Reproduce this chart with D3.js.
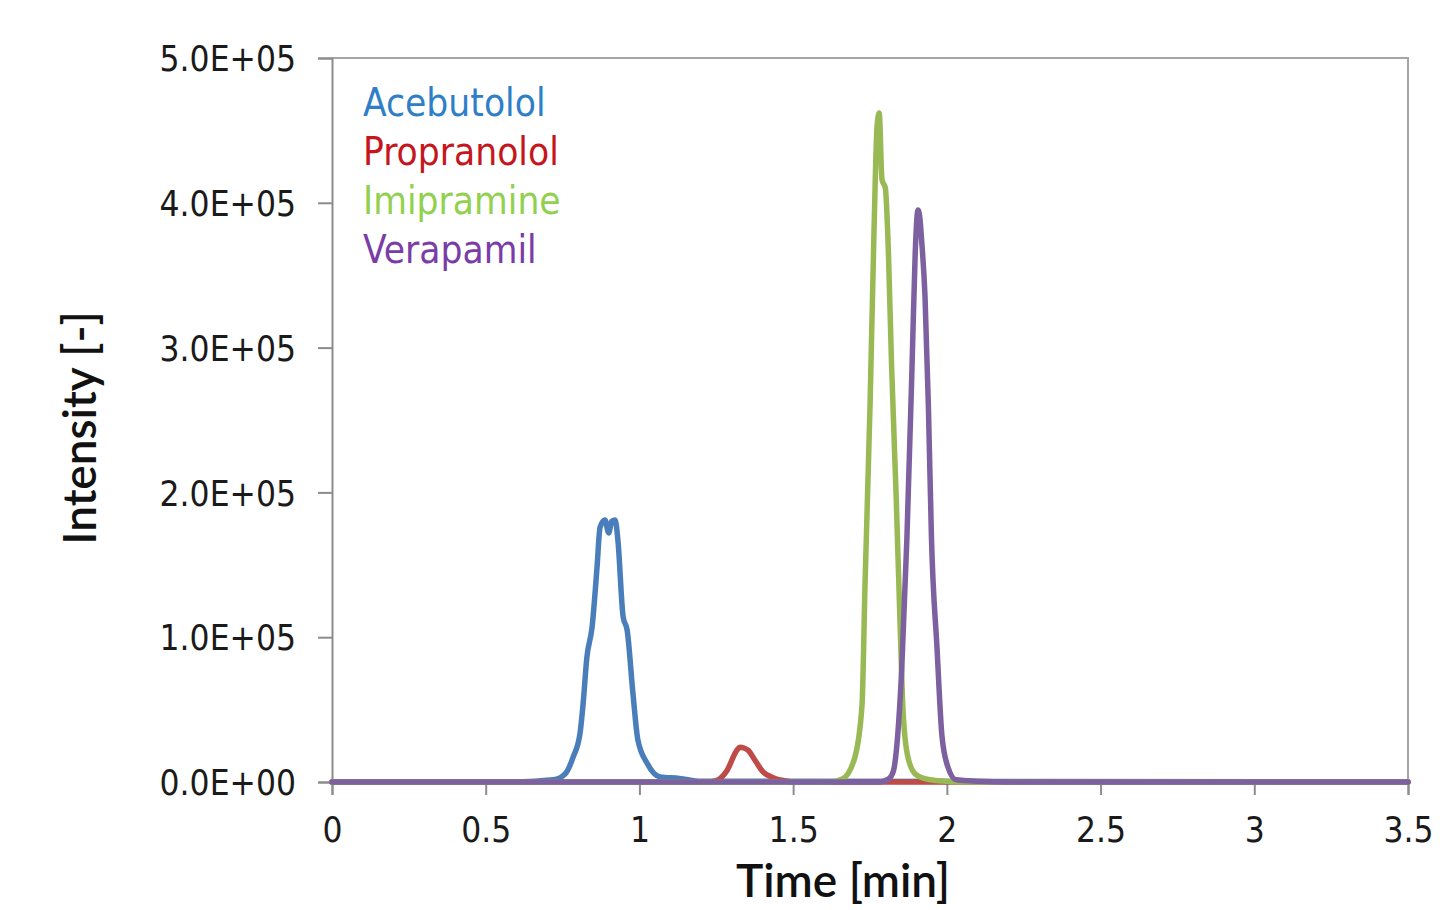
<!DOCTYPE html>
<html>
<head>
<meta charset="utf-8">
<script src="https://cdn.jsdelivr.net/npm/d3@7"></script>
<style>
  body { margin: 0; background: #fff; }
  svg { display: block; }
</style>
</head>
<body>
<div id="chart"></div>
<script>
// chromatogram - four compounds, time in minutes vs intensity

var names = ["Acebutolol", "Propranolol", "Imipramine", "Verapamil"];
var lineColors = ["#4a7ebb", "#be4b48", "#98b954", "#7d60a0"];
var textColors = ["#2e7fc8", "#c4161c", "#92d050", "#7a3ca6"];

var acebutololTime = [0, 0.6, 0.72, 0.76, 0.784, 0.807, 0.817, 0.829, 0.846, 0.862, 0.872, 0.888, 0.9, 0.91, 0.921, 0.93, 0.947, 0.96, 0.979, 0.995, 1.025, 1.067, 1.13, 1.2, 3.5];
var acebutololVal  = [0, 0, 1500, 6000, 17000, 34000, 54500, 86000, 107000, 148000, 176000, 181000, 172000, 180000, 181000, 167000, 114000, 105000, 61000, 29000, 13000, 3500, 2500, 500, 0];

var propranololTime = [0, 1.22, 1.25, 1.285, 1.317, 1.327, 1.34, 1.353, 1.376, 1.402, 1.435, 1.467, 1.5, 3.5];
var propranololVal  = [0, 0, 1000, 8000, 22000, 24000, 23500, 22000, 15000, 7000, 3000, 1000, 0, 0];

var imipramineTime = [0, 1.62, 1.66, 1.7, 1.724, 1.734, 1.75, 1.763, 1.773, 1.78, 1.789, 1.8, 1.81, 1.82, 1.835, 1.848, 1.858, 1.874, 1.9, 1.945, 2.0, 2.05, 3.5];
var imipramineVal  = [0, 0, 2000, 16500, 53000, 138000, 259000, 380000, 453000, 462000, 416000, 410000, 365000, 289000, 198000, 108000, 47000, 16500, 5000, 1500, 500, 0, 0];

var verapamilTime = [0, 1.78, 1.81, 1.826, 1.84, 1.853, 1.87, 1.887, 1.897, 1.906, 1.912, 1.918, 1.929, 1.94, 1.95, 1.968, 1.984, 2.004, 2.03, 2.1, 2.2, 3.5];
var verapamilVal  = [0, 0, 2000, 7500, 32000, 77000, 168000, 289000, 365000, 395000, 390000, 374000, 335000, 259000, 168000, 92500, 32000, 10000, 1500, 500, 0, 0];

var xTicks = [0, 0.5, 1, 1.5, 2, 2.5, 3, 3.5];
var xTickLabels = ["0", "0.5", "1", "1.5", "2", "2.5", "3", "3.5"];
var yTicks = [0, 100000, 200000, 300000, 400000, 500000];
var yTickLabels = ["0.0E+00", "1.0E+05", "2.0E+05", "3.0E+05", "4.0E+05", "5.0E+05"];

var seriesTime = [acebutololTime, propranololTime, imipramineTime, verapamilTime];
var seriesVal = [acebutololVal, propranololVal, imipramineVal, verapamilVal];

var svg = d3.select("#chart").append("svg")
  .attr("width", 1440)
  .attr("height", 910);

var x = d3.scaleLinear().domain([0, 3.5]).range([332, 1408]);
var y = d3.scaleLinear().domain([0, 500000]).range([782, 58]);

var tickFont = "'DejaVu Sans Condensed', 'Liberation Sans Narrow', sans-serif";
var titleFont = "Lato, 'Open Sans', sans-serif";

// frame, top and right
svg.append("path")
  .attr("d", "M" + x(0) + "," + y(500000) + "H" + x(3.5) + "V" + y(0))
  .attr("fill", "none")
  .attr("stroke", "#a6a6a6")
  .attr("stroke-width", 2);

// y axis
var yAxis = svg.append("g")
  .attr("transform", "translate(" + x(0) + ",0)")
  .call(d3.axisLeft(y).tickValues(yTicks).tickSize(14).tickPadding(22)
    .tickFormat(function (d, i) { return yTickLabels[i]; }));

// x axis
var xAxis = svg.append("g")
  .attr("transform", "translate(0," + y(0) + ")")
  .call(d3.axisBottom(x).tickValues(xTicks).tickSize(13).tickPadding(22)
    .tickFormat(function (d, i) { return xTickLabels[i]; }));

[yAxis, xAxis].forEach(function (ax) {
  ax.select(".domain").attr("stroke", "#8c8c8c").attr("stroke-width", 2);
  ax.selectAll(".tick line").attr("stroke", "#8c8c8c").attr("stroke-width", 2);
  ax.selectAll(".tick text")
    .attr("fill", "#1a1a1a")
    .style("font-family", tickFont)
    .style("font-size", "35px");
});
yAxis.selectAll(".tick text").attr("dy", "0.36em");

// series lines
var line = d3.line()
  .x(function (d) { return x(d[0]); })
  .y(function (d) { return y(d[1]); })
  .curve(d3.curveMonotoneX);

var seriesData = names.map(function (n, i) {
  return seriesTime[i].map(function (t, j) { return [t, seriesVal[i][j]]; });
});

svg.selectAll(".series")
  .data(seriesData)
  .enter()
  .append("path")
    .attr("class", "series")
    .attr("d", line)
    .attr("fill", "none")
    .attr("stroke", function (d, i) { return lineColors[i]; })
    .attr("stroke-width", 5.5)
    .attr("stroke-linejoin", "round")
    .attr("stroke-linecap", "round");

// legend text
svg.selectAll(".legend")
  .data(names)
  .enter()
  .append("text")
    .attr("class", "legend")
    .attr("x", 363)
    .attr("y", function (d, i) { return 116 + 49 * i; })
    .attr("fill", function (d, i) { return textColors[i]; })
    .style("font-family", tickFont)
    .style("font-size", "38.5px")
    .text(function (d) { return d; });

// axis titles
svg.append("text")
  .attr("transform", "translate(96,428) rotate(-90)")
  .attr("text-anchor", "middle")
  .attr("fill", "#111")
  .style("font-family", titleFont)
  .style("font-size", "46px")
  .style("font-weight", 600)
  .text("Intensity [-]");

svg.append("text")
  .attr("x", 843)
  .attr("y", 897)
  .attr("text-anchor", "middle")
  .attr("fill", "#111")
  .style("font-family", titleFont)
  .style("font-size", "46px")
  .style("font-weight", 600)
  .text("Time [min]");
</script>
</body>
</html>
